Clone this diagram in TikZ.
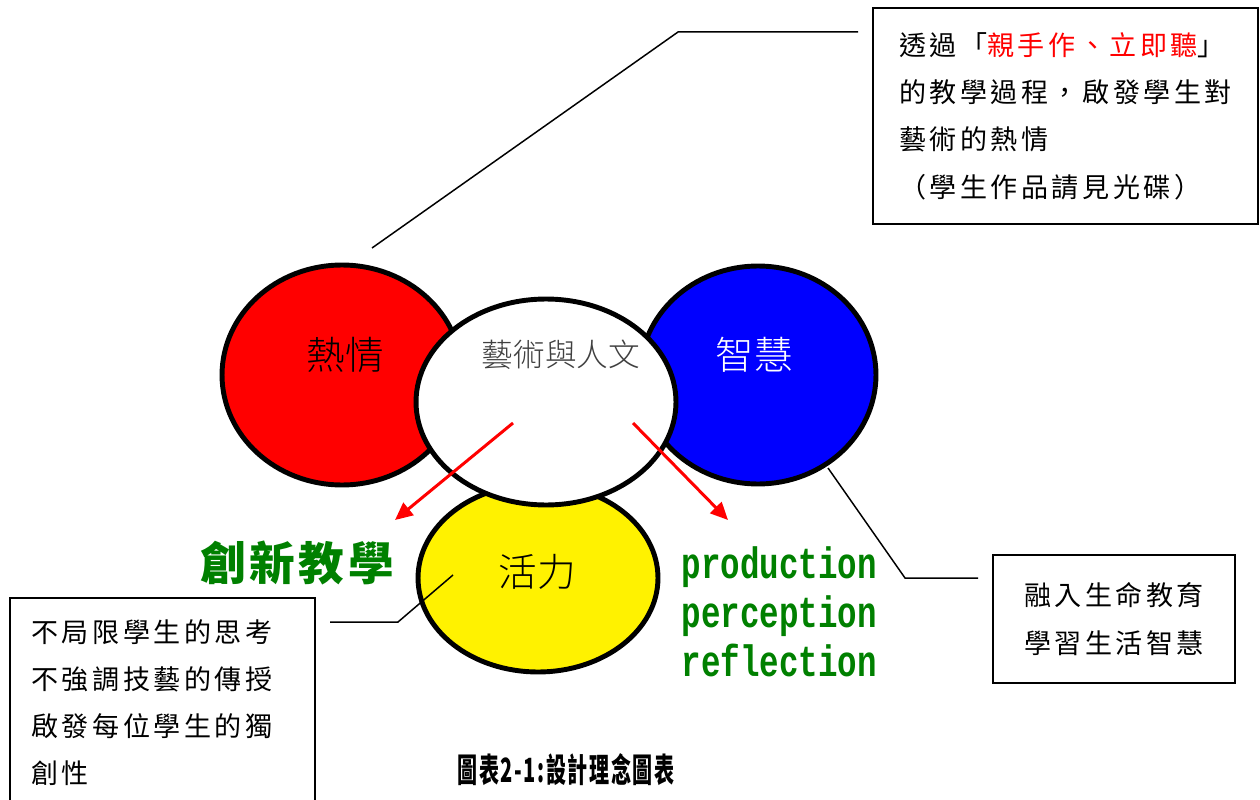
\documentclass[tikz,border=0pt]{standalone}
\usepackage{fontspec}
\newfontfamily\cjk[LetterSpace=13]{Noto Sans CJK TC}
\newfontfamily\cjklight{Noto Sans CJK TC Light}
\newfontfamily\cjkbold[LetterSpace=8]{Noto Sans CJK TC Black}
\newfontfamily\slab{Liberation Mono}
\usetikzlibrary{arrows.meta}
\usetikzlibrary{shapes.geometric}

\definecolor{deepgreen}{RGB}{0,128,0}
\tikzset{
  ring/.style={ellipse, draw=black, line width=2.8pt, inner sep=0pt},
  notebox/.style={draw=black, line width=1.1pt, align=left, inner sep=0pt, font=\cjk\fontsize{15.4}{26.9}\selectfont},
  notetext/.style={align=left, inner sep=0pt, font=\cjk\fontsize{15.4}{26.9}\selectfont},
  leader/.style={black, line width=0.85pt},
  pointer/.style={red, line width=1.7pt, -{Triangle[length=10pt, width=9pt]}},
}

\begin{document}
\begin{tikzpicture}[x=0.02cm, y=-0.02cm]
\useasboundingbox (0,0) rectangle (1260,800);

% the four circles
\node[ring, fill=red, minimum width=4.8cm, minimum height=4.4cm] (hot) at (342,375) {};
\node[ring, fill=blue, minimum width=4.72cm, minimum height=4.36cm] (wise) at (758,375) {};
\node[ring, fill=yellow, minimum width=4.8cm, minimum height=3.76cm] (live) at (538,578) {};
\node[ring, fill=white, minimum width=5.2cm, minimum height=4.12cm] (art) at (546,402) {};

\node[font=\cjklight\fontsize{22}{22}\selectfont] (hotname) at (345,355) {熱情};
\node[font=\cjklight\fontsize{18}{18}\selectfont, text=black!75] (artname) at (561,355) {藝術與人文};
\node[font=\cjklight\fontsize{22}{22}\selectfont, text=white] (wisename) at (754,355) {智慧};
\node[font=\cjklight\fontsize{22}{22}\selectfont] (livename) at (537,572) {活力};

% red arrows
\coordinate (lefttail) at (513,423);
\coordinate (lefthead) at (395,520);
\coordinate (righttail) at (633,423);
\coordinate (righthead) at (728,520);
\draw[pointer] (lefttail) -- (lefthead);
\draw[pointer] (righttail) -- (righthead);

\node[font=\cjkbold\fontsize{26}{26}\selectfont, text=deepgreen] (innov) at (297,563) {創新教學};
\node[anchor=west, align=left, font=\slab\bfseries\fontsize{25}{28}\selectfont, text=deepgreen, xscale=0.74, transform shape] (steps) at (677,612) {production\\perception\\reflection};

% notes
\node[notebox, minimum width=7.7cm, minimum height=4.32cm] (glow) at (1065.5,116) {透過「\textcolor{red}{親手作、立即聽}」\\的教學過程，啟發學生對\\藝術的熱情\\（學生作品請見光碟）};
\node[notebox, minimum width=4.84cm, minimum height=2.56cm] (life) at (1114,619) {融入生命教育\\學習生活智慧};
\node[notetext, anchor=north west] (freedom) at (31,619) {不局限學生的思考\\不強調技藝的傳授\\啟發每位學生的獨\\創性};
\draw[line width=1.1pt] (10,830) |- (315,598) -- (315,830);

% leader lines
\coordinate (hotpin) at (372,248);
\coordinate (glowpin) at (858,32);
\draw[leader] (hotpin) -- (678,32) -- (glowpin);
\coordinate (wisepin) at (828,468);
\coordinate (lifepin) at (978,578);
\draw[leader] (wisepin) -- (905,578) -- (lifepin);
\coordinate (livepin) at (453,575);
\coordinate (freepin) at (330,622);
\draw[leader] (livepin) -- (398,622) -- (freepin);

\node[font=\cjkbold\fontsize{19}{19}\selectfont, xscale=0.6, transform shape] (caption) at (566,770) {圖表2-1:設計理念圖表};

\end{tikzpicture}
\end{document}
